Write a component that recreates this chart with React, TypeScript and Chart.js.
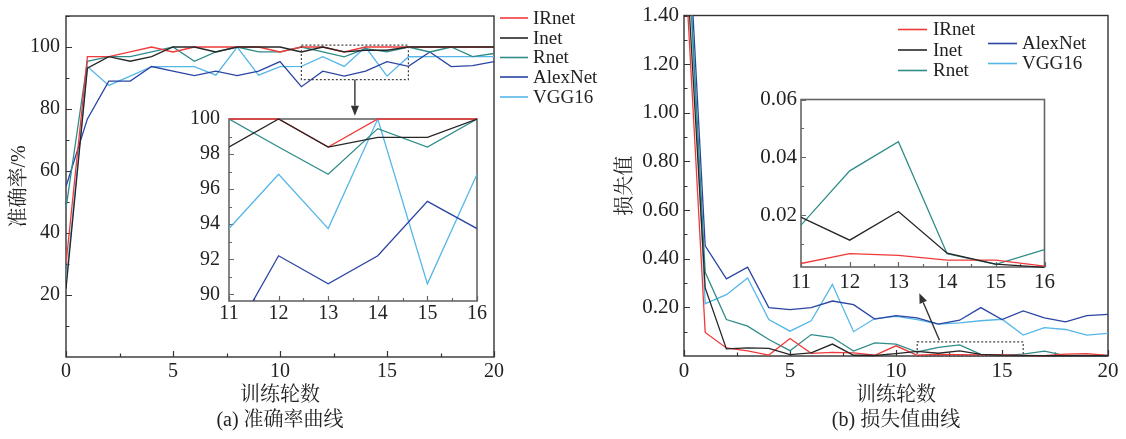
import React, { useEffect, useRef } from 'react';
import { Chart, registerables } from 'chart.js';

Chart.register(...registerables);

// ---------------- data ----------------
const SERIES = ['IRnet', 'Inet', 'Rnet', 'AlexNet', 'VGG16'];
const COLORS = ['#f03a3a', '#262626', '#2f8c89', '#2a44a3', '#55b6e8'];
const DRAW_ORDER = [1, 0, 2, 3, 4];

const EPOCHS = [0, 1, 2, 3, 4, 5, 6, 7, 8, 9, 10, 11, 12, 13, 14, 15, 16, 17, 18, 19, 20];

// accuracy (%)
const ACC_IRNET = [30, 96.9, 96.9, 98.4, 100, 98.4, 100, 100, 100, 100, 98.4, 100, 100, 98.4, 100, 100, 100, 100, 100, 100, 100];
const ACC_INET = [22, 93.2, 96.9, 95.4, 96.9, 100, 100, 98.4, 100, 100, 100, 98.4, 100, 98.4, 98.95, 98.95, 100, 100, 100, 100, 100];
const ACC_RNET = [48, 95.4, 96.9, 96.9, 98.4, 100, 95.4, 98.4, 100, 98.4, 98.4, 100, 98.4, 96.85, 99.45, 98.4, 100, 98.4, 100, 96.9, 97.9];
const ACC_ALEXNET = [55, 76.8, 89.0, 89.0, 93.7, 92.2, 90.8, 92.2, 90.8, 92.2, 95.3, 87.2, 92.2, 90.6, 92.2, 95.3, 93.75, 98.4, 93.7, 94.0, 95.3];
const ACC_VGG16 = [24, 93.7, 87.6, 90.6, 93.7, 93.7, 93.7, 90.9, 100, 90.9, 93.7, 93.75, 96.85, 93.75, 100, 90.6, 96.85, 96.9, 96.9, 96.9, 96.9];

// loss
const LOSS_IRNET = [1.7, 0.097, 0.033, 0.021, 0.004, 0.072, 0.011, 0.015, 0.013, 0.003, 0.042, 0.0032, 0.0066, 0.006, 0.0044, 0.0044, 0.0023, 0.001, 0.008, 0.01, 0.002];
const LOSS_INET = [1.8, 0.28, 0.029, 0.033, 0.031, 0.006, 0.013, 0.049, 0.003, 0.002, 0.01, 0.0192, 0.0113, 0.0212, 0.0068, 0.003, 0.0019, 0.001, 0.001, 0.001, 0.001];
const LOSS_RNET = [2.0, 0.344, 0.15, 0.123, 0.068, 0.022, 0.088, 0.076, 0.02, 0.054, 0.049, 0.0165, 0.0353, 0.0454, 0.0066, 0.0029, 0.008, 0.02, 0.002, 0.002, 0.002];
const LOSS_ALEXNET = [2.1, 0.453, 0.317, 0.365, 0.199, 0.191, 0.199, 0.226, 0.211, 0.152, 0.166, 0.157, 0.131, 0.147, 0.199, 0.15, 0.185, 0.157, 0.14, 0.166, 0.171];
const LOSS_VGG16 = [2.05, 0.215, 0.252, 0.321, 0.15, 0.102, 0.145, 0.294, 0.1, 0.154, 0.163, 0.15, 0.131, 0.136, 0.145, 0.151, 0.086, 0.117, 0.109, 0.086, 0.093];

const ACC = [ACC_IRNET, ACC_INET, ACC_RNET, ACC_ALEXNET, ACC_VGG16];
const LOSS = [LOSS_IRNET, LOSS_INET, LOSS_RNET, LOSS_ALEXNET, LOSS_VGG16];

// ticks
const MAIN_X_TICKS = [0, 5, 10, 15, 20];
const MAIN_X_MINOR = [2.5, 7.5, 12.5, 17.5];
const ACC_Y_TICKS = [20, 40, 60, 80, 100];
const ACC_Y_MINOR = [10, 30, 50, 70, 90, 110];
const LOSS_Y_TICKS = [0.2, 0.4, 0.6, 0.8, 1.0, 1.2, 1.4];
const LOSS_Y_MINOR = [0.1, 0.3, 0.5, 0.7, 0.9, 1.1, 1.3];
const INSET_X_TICKS = [11, 12, 13, 14, 15, 16];
const INSET_X_MINOR = [11.5, 12.5, 13.5, 14.5, 15.5];
const ACC_INSET_Y_TICKS = [90, 92, 94, 96, 98, 100];
const ACC_INSET_Y_MINOR = [91, 93, 95, 97, 99];
const LOSS_INSET_Y_TICKS = [0.02, 0.04, 0.06];
const LOSS_INSET_Y_MINOR = [0.01, 0.03, 0.05];

// zoom-window markers (data coordinates)
const ACC_ZOOM_BOX = [11, 16, 89.5, 100.6];
const ACC_ARROW = [13.5, 89.5, 13.5, 77.8];
const LOSS_ZOOM_BOX = [11, 16, 0.0, 0.058];
const LOSS_ARROW = [12.05, 0.065, 11.1, 0.258];

const FONT = '"Liberation Serif", "Times New Roman", "Noto Serif CJK SC", "Noto Sans CJK SC", serif';

// ---------------- plugins ----------------
const framePlugin = {
  id: 'frameTicks',
  beforeDraw(chart: any, _a: any, opts: any) {
    if (!opts || !opts.fill) return;
    const { ctx, chartArea: a } = chart;
    ctx.save();
    ctx.fillStyle = opts.fill;
    ctx.fillRect(a.left, a.top, a.right - a.left, a.bottom - a.top);
    ctx.restore();
  },
  beforeDatasetsDraw(chart: any, _a: any, opts: any) {
    if (!opts || !opts.xMajor) return;
    const { ctx, chartArea: a, scales } = chart;
    const xs = scales.x;
    const ys = scales.y;
    ctx.save();
    ctx.strokeStyle = opts.color;
    ctx.lineWidth = opts.width;
    ctx.strokeRect(a.left, a.top, a.right - a.left, a.bottom - a.top);
    ctx.lineWidth = opts.tickWidth;
    ctx.beginPath();
    const xt = (vals: number[], len: number) => vals.forEach((v) => {
      const p = Math.round(xs.getPixelForValue(v)) + 0.5;
      ctx.moveTo(p, a.bottom);
      ctx.lineTo(p, a.bottom - len);
    });
    const yt = (vals: number[], len: number) => vals.forEach((v) => {
      const p = Math.round(ys.getPixelForValue(v)) + 0.5;
      ctx.moveTo(a.left, p);
      ctx.lineTo(a.left + len, p);
    });
    xt(opts.xMajor, opts.major);
    xt(opts.xMinor, opts.minor);
    yt(opts.yMajor, opts.major);
    yt(opts.yMinor, opts.minor);
    ctx.stroke();
    ctx.restore();
  },
};

const markerPlugin = {
  id: 'zoomMarker',
  afterDatasetsDraw(chart: any, _a: any, opts: any) {
    if (!opts || !opts.box) return;
    const { ctx, scales } = chart;
    const xs = scales.x;
    const ys = scales.y;
    const [bx0, bx1, by0, by1] = opts.box;
    const l = xs.getPixelForValue(bx0);
    const r = xs.getPixelForValue(bx1);
    const t = ys.getPixelForValue(by1);
    const b = ys.getPixelForValue(by0);
    ctx.save();
    ctx.strokeStyle = '#444';
    ctx.lineWidth = 1.2;
    ctx.setLineDash([2, 2]);
    ctx.strokeRect(l, t, r - l, b - t);
    ctx.setLineDash([]);
    const [ax0, ay0, ax1, ay1] = opts.arrow;
    const x0 = xs.getPixelForValue(ax0);
    const y0 = ys.getPixelForValue(ay0);
    const x1 = xs.getPixelForValue(ax1);
    const y1 = ys.getPixelForValue(ay1);
    const ang = Math.atan2(y1 - y0, x1 - x0);
    const hl = 10;
    const hw = 4;
    ctx.strokeStyle = '#333';
    ctx.fillStyle = '#333';
    ctx.lineWidth = 1.4;
    ctx.beginPath();
    ctx.moveTo(x0, y0);
    ctx.lineTo(x1 - Math.cos(ang) * hl, y1 - Math.sin(ang) * hl);
    ctx.stroke();
    ctx.beginPath();
    ctx.moveTo(x1, y1);
    ctx.lineTo(x1 - Math.cos(ang) * hl - Math.sin(ang) * hw, y1 - Math.sin(ang) * hl + Math.cos(ang) * hw);
    ctx.lineTo(x1 - Math.cos(ang) * hl + Math.sin(ang) * hw, y1 - Math.sin(ang) * hl - Math.cos(ang) * hw);
    ctx.closePath();
    ctx.fill();
    ctx.restore();
  },
};

const legendPlugin = {
  id: 'customLegend',
  afterDraw(chart: any, _a: any, opts: any) {
    if (!opts || !opts.cols) return;
    const { ctx } = chart;
    ctx.save();
    ctx.font = `${opts.size}px ${FONT}`;
    ctx.textBaseline = 'middle';
    ctx.textAlign = 'left';
    opts.cols.forEach((col: any) => {
      col.items.forEach((it: any) => {
        const ds = chart.data.datasets[it.i];
        ctx.strokeStyle = ds.borderColor;
        ctx.lineWidth = 1.6;
        ctx.beginPath();
        ctx.moveTo(col.x0, it.y);
        ctx.lineTo(col.x1, it.y);
        ctx.stroke();
        ctx.fillStyle = '#222';
        ctx.fillText(ds.label, col.tx, it.y + 1);
      });
    });
    ctx.restore();
  },
};

// ---------------- chart specs ----------------
type Spec = any;

const SPECS: Spec[] = [
  {
    left: 0, top: 0, W: 600, H: 439,
    area: { l: 66, t: 11, r: 494, b: 357 },
    values: ACC,
    x: { min: 0, max: 20, ticks: MAIN_X_TICKS, minor: MAIN_X_MINOR, pad: 5 },
    y: { min: 0, max: 110, ticks: ACC_Y_TICKS, minor: ACC_Y_MINOR, pad: 6, fmt: (v: number) => String(v) },
    tickSize: 20,
    yTitle: { text: '准确率/%', pad: 8 },
    xTitle: ['训练轮数', '(a) 准确率曲线'],
    frame: { color: '#333', width: 1.4, tickWidth: 1.2, major: 6, minor: 3.5 },
    clip: { left: 0, top: 2, right: 0, bottom: 2 },
    marker: { box: ACC_ZOOM_BOX, arrow: ACC_ARROW },
    legend: {
      size: 19,
      cols: [{ x0: 500, x1: 528, tx: 533, items: [{ i: 0, y: 18 }, { i: 1, y: 38 }, { i: 2, y: 57.5 }, { i: 3, y: 77 }, { i: 4, y: 97 }] }],
    },
  },
  {
    left: 600, top: 0, W: 526, H: 439,
    area: { l: 84, t: 14, r: 508, b: 356 },
    values: LOSS,
    x: { min: 0, max: 20, ticks: MAIN_X_TICKS, minor: MAIN_X_MINOR, pad: 5 },
    y: { min: 0, max: 1.4, ticks: LOSS_Y_TICKS, minor: LOSS_Y_MINOR, pad: 5, fmt: (v: number) => v.toFixed(2) },
    tickSize: 21,
    yTitle: { text: '损失值', pad: 14 },
    xTitle: ['训练轮数', '(b) 损失值曲线'],
    frame: { color: '#333', width: 1.4, tickWidth: 1.2, major: 6, minor: 3.5 },
    clip: { left: 0, top: 0, right: 0, bottom: 2 },
    marker: { box: LOSS_ZOOM_BOX, arrow: LOSS_ARROW },
    legend: {
      size: 19,
      cols: [
        { x0: 298, x1: 327, tx: 333, items: [{ i: 0, y: 29.5 }, { i: 1, y: 50 }, { i: 2, y: 70.5 }] },
        { x0: 388, x1: 417, tx: 422, items: [{ i: 3, y: 43.5 }, { i: 4, y: 63.5 }] },
      ],
    },
  },
  {
    left: 180, top: 100, W: 310, H: 232,
    area: { l: 49, t: 14, r: 300, b: 201 },
    values: ACC,
    x: { min: 11, max: 16, ticks: INSET_X_TICKS, minor: INSET_X_MINOR, pad: 3 },
    y: { min: 89.62, max: 100, ticks: ACC_INSET_Y_TICKS, minor: ACC_INSET_Y_MINOR, pad: 9, fmt: (v: number) => String(v) },
    tickSize: 20,
    frame: { color: '#666', width: 1.6, tickWidth: 1.2, major: 5, minor: 3, fill: '#fff' },
    clip: { left: 0, top: 2, right: 0, bottom: 0 },
  },
  {
    left: 740, top: 85, W: 320, H: 215,
    area: { l: 61, t: 10, r: 307, b: 182 },
    values: LOSS,
    x: { min: 11, max: 16, ticks: INSET_X_TICKS, minor: INSET_X_MINOR, pad: 5 },
    y: { min: 0.002, max: 0.06, ticks: LOSS_INSET_Y_TICKS, minor: LOSS_INSET_Y_MINOR, pad: 4, fmt: (v: number) => v.toFixed(2) },
    tickSize: 21,
    frame: { color: '#666', width: 1.6, tickWidth: 1.2, major: 5, minor: 3, fill: '#fff' },
    clip: { left: 0, top: 2, right: 0, bottom: 1 },
  },
];

function makeChart(canvas: HTMLCanvasElement, s: Spec) {
  const { W, H, area } = s;
  const tickFont = { family: FONT, size: s.tickSize, lineHeight: 1 };
  const datasets = SERIES.map((name, i) => ({
    label: name,
    data: EPOCHS.map((e, j) => ({ x: e, y: s.values[i][j] })),
    borderColor: COLORS[i],
    backgroundColor: COLORS[i],
    borderWidth: 1.3,
    pointRadius: 0,
    tension: 0,
    fill: false,
    clip: s.clip,
    order: DRAW_ORDER[i],
  }));
  return new Chart(canvas, {
    type: 'line',
    data: { datasets },
    plugins: [framePlugin, markerPlugin, legendPlugin],
    options: {
      animation: false,
      responsive: false,
      maintainAspectRatio: false,
      devicePixelRatio: 1,
      events: [],
      layout: { padding: { left: 0, top: area.t, right: W - area.r, bottom: 0 } },
      plugins: {
        legend: { display: false },
        tooltip: { enabled: false },
        frameTicks: { xMajor: s.x.ticks, xMinor: s.x.minor, yMajor: s.y.ticks, yMinor: s.y.minor, ...s.frame },
        zoomMarker: s.marker || {},
        customLegend: s.legend || {},
      },
      scales: {
        x: {
          type: 'linear',
          min: s.x.min,
          max: s.x.max,
          afterBuildTicks: (ax: any) => { ax.ticks = s.x.ticks.map((v: number) => ({ value: v })); },
          afterFit: (ax: any) => { ax.height = H - area.b; },
          grid: { display: false, drawTicks: false },
          border: { display: false },
          ticks: {
            font: tickFont, color: '#222', padding: s.x.pad, autoSkip: false, maxRotation: 0,
            callback: (v: any) => String(v),
          },
          title: s.xTitle ? {
            display: true,
            text: s.xTitle,
            color: '#222',
            font: { family: FONT, size: 20, lineHeight: 1.25 },
            padding: { top: 0, bottom: 5.5 },
          } : { display: false },
        },
        y: {
          type: 'linear',
          min: s.y.min,
          max: s.y.max,
          afterBuildTicks: (ax: any) => { ax.ticks = s.y.ticks.map((v: number) => ({ value: v })); },
          afterFit: (ax: any) => { ax.width = area.l; },
          grid: { display: false, drawTicks: false },
          border: { display: false },
          ticks: {
            font: tickFont, color: '#222', padding: s.y.pad, autoSkip: false,
            callback: (v: any) => s.y.fmt(Number(v)),
          },
          title: s.yTitle ? {
            display: true,
            text: s.yTitle.text,
            color: '#222',
            font: { family: FONT, size: 20, lineHeight: 1.2 },
            padding: { top: s.yTitle.pad, bottom: 0 },
          } : { display: false },
        },
      },
    } as any,
  });
}

export default function App() {
  const refs = useRef<(HTMLCanvasElement | null)[]>([]);
  useEffect(() => {
    const charts = SPECS.map((s, i) => makeChart(refs.current[i] as HTMLCanvasElement, s));
    return () => charts.forEach((c) => c.destroy());
  }, []);
  return (
    <div style={{ position: 'fixed', left: 0, top: 0, width: 1126, height: 439, background: '#fff', overflow: 'hidden' }}>
      {SPECS.map((s, i) => (
        <canvas
          key={i}
          ref={(el) => { refs.current[i] = el; }}
          width={s.W}
          height={s.H}
          style={{ position: 'absolute', left: s.left, top: s.top, width: s.W, height: s.H }}
        />
      ))}
    </div>
  );
}
